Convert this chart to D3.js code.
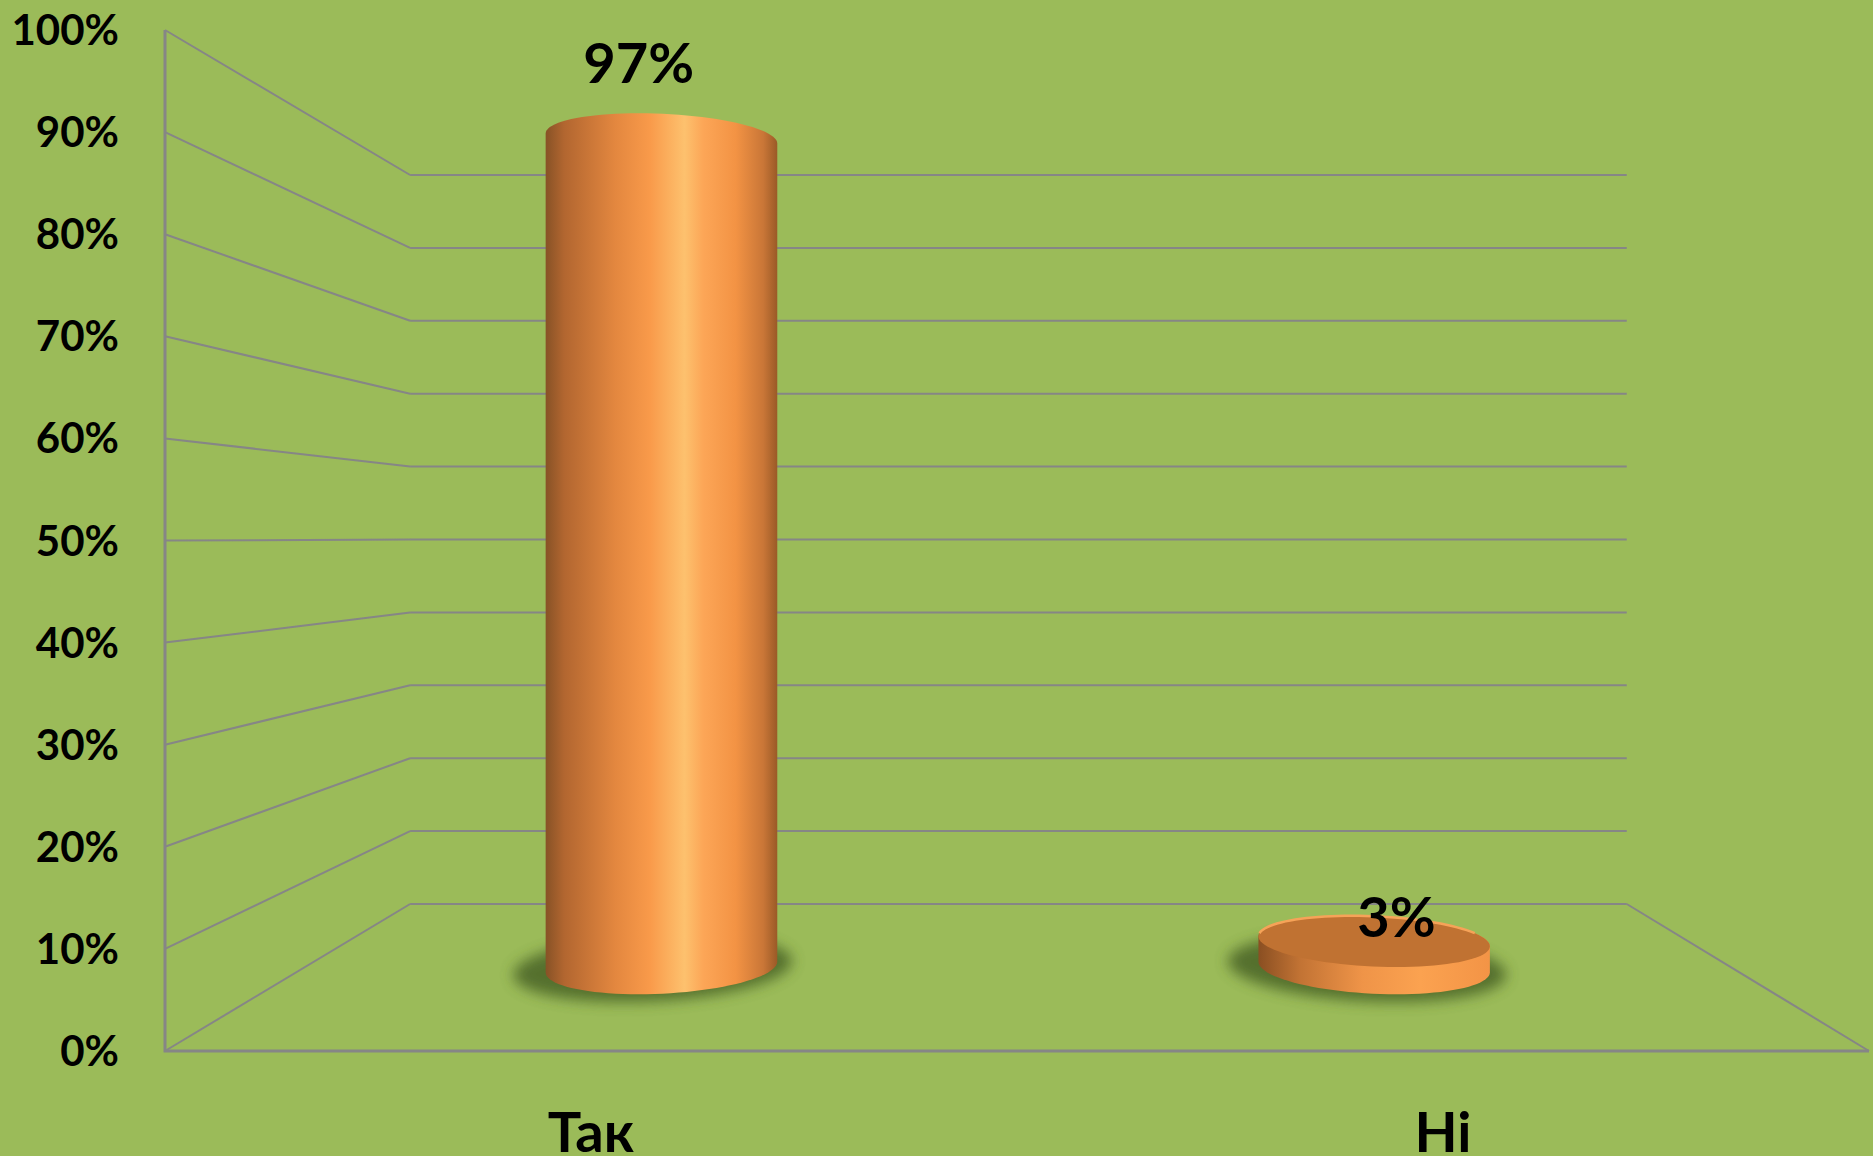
<!DOCTYPE html>
<html>
<head>
<meta charset="utf-8">
<script src="https://cdn.jsdelivr.net/npm/d3@7"></script>
<style>
    html, body { margin: 0; padding: 0; background: #9bbb59; overflow: hidden; }
    text { font-family: Lato, 'Noto Sans', sans-serif; font-weight: bold; fill: #000; }
</style>
</head>
<body>
<svg id="chart" width="1873" height="1156"></svg>
<script>
var categories = ['Так', 'Ні'];
var values = [0.97, 0.03];
var valueLabels = ['97%', '3%'];
var yTicks = [0, 0.1, 0.2, 0.3, 0.4, 0.5, 0.6, 0.7, 0.8, 0.9, 1];

(function () {
    'use strict';

    var width = 1873, height = 1156;
    var gridColor = '#868686';
    var vp = [1022, 537];          // vanishing point of the 3d box
    var backScale = 0.714;         // back wall size relative to front plane
    var persp = 1 / backScale - 1;
    var barDepth = 0.5, barRadiusDepth = 0.19, barRadiusX = 136;

    var svg = d3.select('#chart');
    var x = d3.scaleBand().domain(categories).range([165, 1869]);
    var y = d3.scaleLinear().domain([0, 1]).range([1051, 30]);
    var pct = d3.format('.0%');

    function k(t) { return 1 / (1 + persp * t); }
    function proj(px, v, t) {
        var s = k(t);
        return [vp[0] + (px - vp[0]) * s, vp[1] + (y(v) - vp[1]) * s];
    }
    function circle(cx, v, rx, rt, dx) {
        return d3.range(0, 96).map(function (i) {
            var a = i / 96 * Math.PI * 2;
            var p = proj(cx + rx * Math.cos(a), v, barDepth + rt * Math.sin(a));
            return [p[0] + (dx || 0), p[1]];
        });
    }
    var line = d3.line();

    svg.append('rect').attr('width', width).attr('height', height).style('fill', '#9bbb59');

    var defs = svg.append('defs');
    defs.append('filter').attr('id', 'blur')
        .attr('x', '-30%').attr('y', '-60%').attr('width', '160%').attr('height', '220%')
        .append('feGaussianBlur').attr('stdDeviation', 7);

    function gradient(id, stops) {
        var g = defs.append('linearGradient').attr('id', id);
        stops.forEach(function (s) {
            g.append('stop').attr('offset', s[0]).attr('stop-color', s[1]);
        });
    }
    gradient('cylSide', [[0, '#875226'], [0.08, '#b26630'], [0.3, '#e3873f'], [0.45, '#f99a4a'],
        [0.6, '#fdc16e'], [0.68, '#fca657'], [0.82, '#f39344'], [0.94, '#c97637'], [1, '#9a5a27']]);
    gradient('diskSide', [[0, '#8a4f22'], [0.18, '#c27334'], [0.45, '#ef9448'], [0.7, '#fba250'], [1, '#f39446']]);

    var left = x.range()[0], right = x.range()[1];

    // back wall gridlines
    svg.append('g').selectAll('line').data(yTicks).enter().append('line')
        .attr('x1', function (d) { return proj(left, d, 1)[0]; })
        .attr('y1', function (d) { return proj(left, d, 1)[1]; })
        .attr('x2', function (d) { return proj(right, d, 1)[0]; })
        .attr('y2', function (d) { return proj(right, d, 1)[1]; })
        .style('stroke', gridColor).style('stroke-width', 2);

    // left wall gridlines
    svg.append('g').selectAll('line').data(yTicks).enter().append('line')
        .attr('x1', left).attr('y1', function (d) { return y(d); })
        .attr('x2', function (d) { return proj(left, d, 1)[0]; })
        .attr('y2', function (d) { return proj(left, d, 1)[1]; })
        .style('stroke', gridColor).style('stroke-width', 2);

    // floor right edge
    svg.append('path').attr('d', line([proj(right, 0, 0), proj(right, 0, 1)]))
        .style('stroke', gridColor).style('stroke-width', 2).style('fill', 'none');

    // front axes
    svg.append('path').attr('d', line([[left, y(1)], [left, y(0)], [right, y(0)]]))
        .style('stroke', gridColor).style('stroke-width', 3).style('fill', 'none');

    // y tick labels
    svg.append('g').selectAll('text').data(yTicks).enter().append('text')
        .attr('x', 119).attr('y', function (d) { return y(d) + 15; })
        .attr('text-anchor', 'end').style('font-size', '42px')
        .text(pct);

    // category labels
    svg.append('g').selectAll('text').data(categories).enter().append('text')
        .attr('x', function (d) { return x(d) + x.bandwidth() / 2; })
        .attr('y', 1152).attr('text-anchor', 'middle').style('font-size', '56px')
        .text(function (d) { return d; });

    // bars as cylinders
    var bars = svg.append('g').selectAll('g').data(categories).enter().append('g');

    bars.append('path')
        .attr('d', function (d) {
            var cx = x(d) + x.bandwidth() / 2;
            return line(circle(cx, 0, barRadiusX * 1.2, barRadiusDepth * 1.25, -8)) + 'Z';
        })
        .style('fill', '#4a6326').style('opacity', 0.85).attr('filter', 'url(#blur)');

    bars.append('path')
        .attr('d', function (d, i) {
            var cx = x(d) + x.bandwidth() / 2;
            var pts = circle(cx, 0, barRadiusX, barRadiusDepth)
                .concat(circle(cx, values[i], barRadiusX, barRadiusDepth));
            return line(d3.polygonHull(pts)) + 'Z';
        })
        .style('fill', function (d, i) { return proj(0, values[i], 0)[1] > vp[1] ? 'url(#diskSide)' : 'url(#cylSide)'; });

    // top face only shows when the bar top sits below eye level
    bars.filter(function (d, i) { return proj(0, values[i], 0)[1] > vp[1]; })
        .each(function (d) {
            var i = categories.indexOf(d);
            var cx = x(d) + x.bandwidth() / 2;
            var top = circle(cx, values[i], barRadiusX, barRadiusDepth);
            d3.select(this).append('path').attr('d', line(top) + 'Z')
                .style('fill', '#c07232');
            d3.select(this).append('path')
                .attr('d', line(top.slice(4, 45)))
                .style('fill', 'none').style('stroke', '#f6a358').style('stroke-width', 2.5);
        });

    // value labels above the near edge of each bar top
    svg.append('g').selectAll('text').data(valueLabels).enter().append('text')
        .attr('x', function (d, i) {
            return proj(x(categories[i]) + x.bandwidth() / 2, values[i], barDepth - barRadiusDepth)[0];
        })
        .attr('y', function (d, i) {
            return proj(x(categories[i]) + x.bandwidth() / 2, values[i], barDepth - barRadiusDepth)[1] - 30;
        })
        .attr('text-anchor', 'middle').style('font-size', '56px')
        .text(function (d) { return d; });
})();
</script>
</body>
</html>
